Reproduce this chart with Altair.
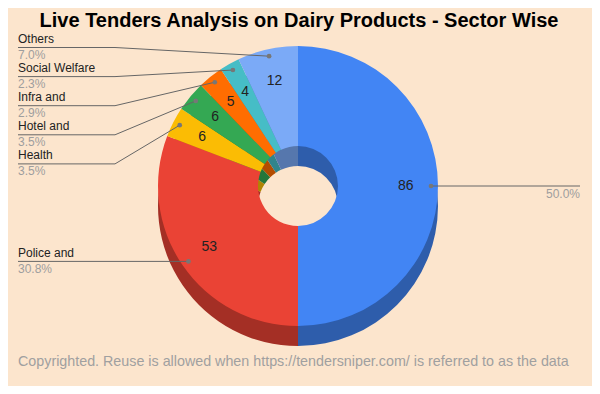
import altair as alt
import pandas as pd

# ---- data ----
sectors = ["", "Police and", "Health", "Hotel and", "Infra and", "Social Welfare", "Others"]
counts = [86, 53, 6, 6, 5, 4, 12]
title_text = "Live Tenders Analysis on Dairy Products - Sector Wise"
note_text = "Copyrighted. Reuse is allowed when https://tendersniper.com/ is referred to as the data"

# ---- styles ----
face_colors = ["#4285F4", "#EA4335", "#FBBC04", "#34A853", "#FF6D01", "#46BDC6", "#7BAAF7"]
side_colors = ["#2E5DAB", "#A42F25", "#B08403", "#24763A", "#B34C01", "#31848B", "#5677AD"]
BG = "#FCE5CD"
FONT = "Liberation Sans"

W, H = 584, 378
CX, CY = 290, 178
R, R0, DEPTH = 140, 40, 20

df = pd.DataFrame({"sector": sectors, "count": counts, "idx": list(range(len(sectors)))})

base = (
    alt.Chart(df)
    .transform_joinaggregate(total="sum(count)")
    .transform_window(cum="sum(count)", sort=[alt.SortField("idx")], frame=[None, 0])
    .transform_calculate(
        mid="(datum.cum - datum.count / 2) / datum.total * 2 * PI",
        pct="format(datum.count / datum.total, '.1%')",
    )
    .transform_calculate(
        dx=f"{CX} + {0.95 * R} * sin(datum.mid)",
        dy=f"{CY} - {0.95 * R} * cos(datum.mid)",
        nx=f"{CX} + {0.77 * R} * sin(datum.mid)",
        ny=f"{CY} - {0.77 * R} * cos(datum.mid)",
    )
    .transform_calculate(
        ly=f"datum.idx >= 2 ? 39.5 + 29.1 * (6 - datum.idx) : datum.dy",
        hx1="datum.idx == 0 ? datum.dx : 10",
        hx2="datum.idx == 0 ? 572 : 107",
        kx="107",
    )
    .transform_calculate(
        name_y="datum.ly - 8.5",
        pct_y="datum.ly + 7.5",
    )
)

side = alt.Chart(df).mark_arc(radius=R, innerRadius=R0).encode(
    theta=alt.Theta("count:Q", stack=True),
    order=alt.Order("idx:Q"),
    color=alt.Color("idx:N", scale=alt.Scale(domain=list(range(7)), range=side_colors), legend=None),
    x=alt.value(CX),
    y=alt.value(CY + DEPTH),
)

face = alt.Chart(df).mark_arc(radius=R, innerRadius=R0).encode(
    theta=alt.Theta("count:Q", stack=True),
    order=alt.Order("idx:Q"),
    color=alt.Color("idx:N", scale=alt.Scale(domain=list(range(7)), range=face_colors), legend=None),
    x=alt.value(CX),
    y=alt.value(CY),
)

numbers = base.mark_text(font=FONT, fontSize=14, color="#222222", baseline="middle").encode(
    x=alt.X("nx:Q", scale=None),
    y=alt.Y("ny:Q", scale=None),
    text="count:Q",
)

hrule = base.mark_rule(color="#666666", strokeWidth=1).encode(
    x=alt.X("hx1:Q", scale=None),
    x2="hx2:Q",
    y=alt.Y("ly:Q", scale=None),
)

diag = base.transform_filter("datum.idx >= 1").mark_rule(color="#666666", strokeWidth=1).encode(
    x=alt.X("kx:Q", scale=None),
    x2="dx:Q",
    y=alt.Y("ly:Q", scale=None),
    y2="dy:Q",
)

dots = base.mark_circle(size=22, color="#777777", opacity=1).encode(
    x=alt.X("dx:Q", scale=None),
    y=alt.Y("dy:Q", scale=None),
)

names = base.transform_filter("datum.idx >= 1").mark_text(
    font=FONT, fontSize=12, color="#222222", align="left", baseline="middle"
).encode(
    x=alt.value(10),
    y=alt.Y("name_y:Q", scale=None),
    text="sector:N",
)

pcts_left = base.transform_filter("datum.idx >= 1").mark_text(
    font=FONT, fontSize=12, color="#9E9E9E", align="left", baseline="middle"
).encode(
    x=alt.value(10),
    y=alt.Y("pct_y:Q", scale=None),
    text="pct:N",
)

pcts_right = base.transform_filter("datum.idx == 0").mark_text(
    font=FONT, fontSize=12, color="#9E9E9E", align="right", baseline="middle"
).encode(
    x=alt.value(572),
    y=alt.Y("pct_y:Q", scale=None),
    text="pct:N",
)

title = alt.Chart(pd.DataFrame({"t": [title_text]})).mark_text(
    font=FONT, fontSize=20, fontWeight="bold", color="#000000", align="center", baseline="alphabetic"
).encode(x=alt.value(291), y=alt.value(19), text="t:N")

note = alt.Chart(pd.DataFrame({"t": [note_text]})).mark_text(
    font=FONT, fontSize=14.3, color="#A0A0A0", align="left", baseline="middle"
).encode(x=alt.value(10), y=alt.value(354), text="t:N")

chart = (
    alt.layer(side, face, numbers, hrule, diag, dots, names, pcts_left, pcts_right, title, note)
    .resolve_scale(color="independent")
    .properties(width=W, height=H, background=BG, padding=0, autosize="none")
    .configure_view(stroke=None)
)

chart.save("out.html", embed_options={"renderer": "svg", "actions": False})
